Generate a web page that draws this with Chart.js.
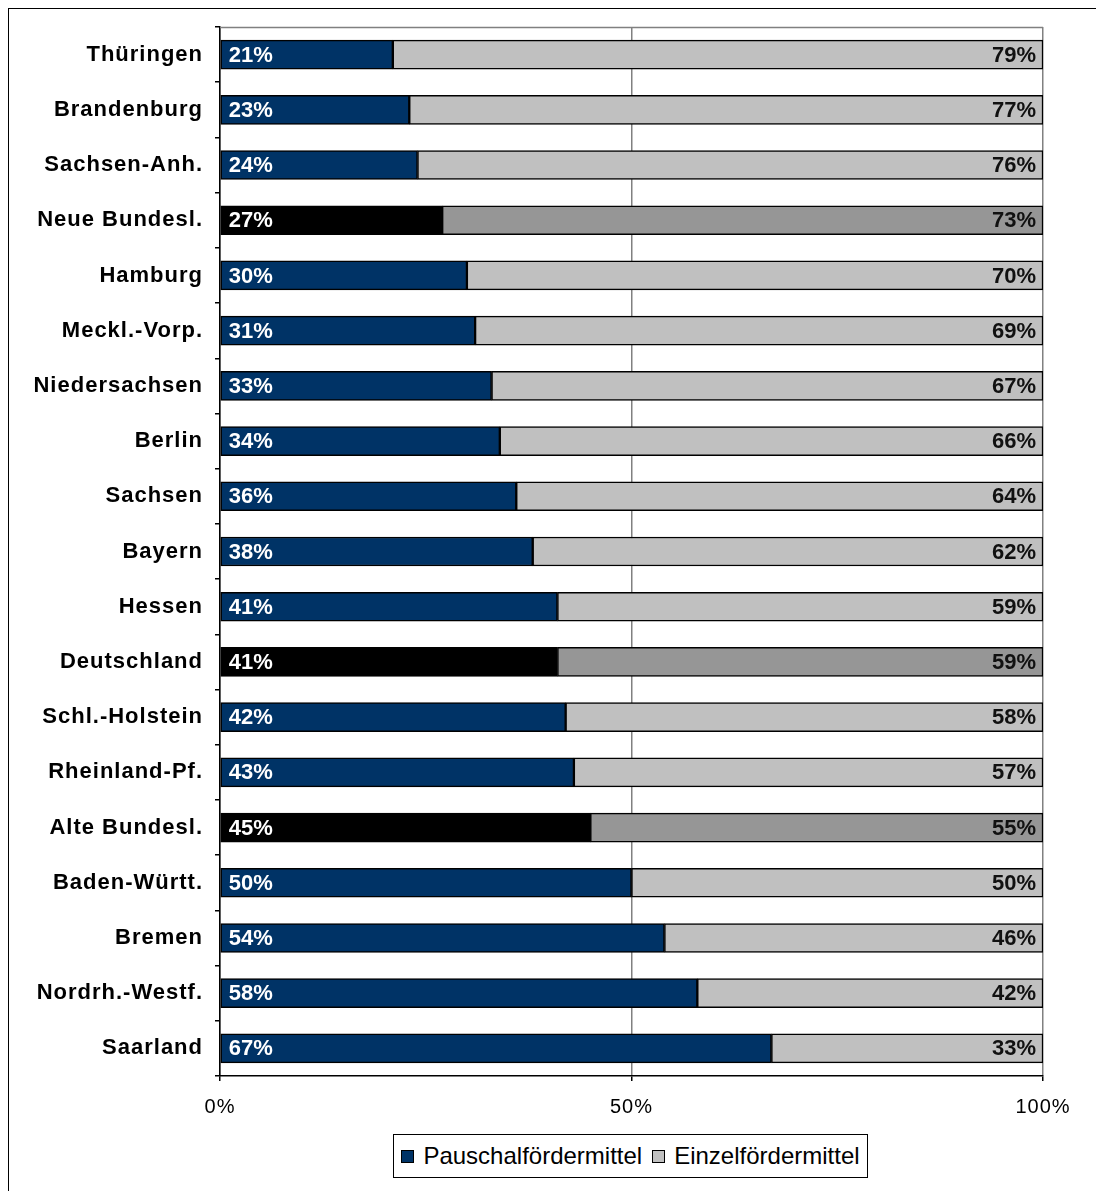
<!DOCTYPE html>
<html>
<head>
<meta charset="utf-8">
<script src="https://cdn.jsdelivr.net/npm/chart.js@4"></script>
<style>
  html, body { margin: 0; padding: 0; background: #fff; overflow: hidden; }
  #wrap { position: relative; width: 1096px; height: 1191px; }
  #frame { position: absolute; left: 8px; top: 8px; right: -10px; bottom: -10px; border-left: 1.5px solid #000; border-top: 1.5px solid #000; pointer-events: none; }
  #legend { position: absolute; left: 393px; top: 1134px; width: 473px; height: 42px; border: 1px solid #000; background: #fff;
            display: flex; align-items: center; justify-content: center; gap: 10px;
            font-family: 'Liberation Sans', Arial, sans-serif; font-size: 24px; color: #000; }
  #legend .item { display: flex; align-items: center; }
  #legend .box { width: 11px; height: 11px; border: 1px solid #000; margin-right: 9px; }
</style>
</head>
<body>
<div id="wrap">
  <canvas id="chart"></canvas>
  <div id="frame"></div>
  <div id="legend"></div>
</div>
<script>
const laender = ['Thüringen', 'Brandenburg', 'Sachsen-Anh.', 'Neue Bundesl.', 'Hamburg', 'Meckl.-Vorp.',
  'Niedersachsen', 'Berlin', 'Sachsen', 'Bayern', 'Hessen', 'Deutschland', 'Schl.-Holstein',
  'Rheinland-Pf.', 'Alte Bundesl.', 'Baden-Württ.', 'Bremen', 'Nordrh.-Westf.', 'Saarland'];
const pauschal = [21, 23, 24, 27, 30, 31, 33, 34, 36, 38, 41, 41, 42, 43, 45, 50, 54, 58, 67];
const einzel = [79, 77, 76, 73, 70, 69, 67, 66, 64, 62, 59, 59, 58, 57, 55, 50, 46, 42, 33];
const summen = ['Neue Bundesl.', 'Deutschland', 'Alte Bundesl.'];
const xTicks = [0, 50, 100];

const FONT = "'Liberation Sans', Arial, sans-serif";
const navy = '#003366', lightGrey = '#c0c0c0';
const isSum = laender.map(l => summen.includes(l));

// white labels at the left end of the first segment, dark ones at the right end of the second
const barLabels = {
  id: 'barLabels',
  afterDatasetsDraw(chart) {
    const ctx = chart.ctx;
    ctx.save();
    ctx.font = 'bold 22px ' + FONT;
    ctx.textBaseline = 'middle';
    chart.getDatasetMeta(0).data.forEach((bar, i) => {
      ctx.fillStyle = '#fff';
      ctx.textAlign = 'left';
      ctx.fillText(pauschal[i] + '%', bar.base + 8, bar.y + 1);
    });
    chart.getDatasetMeta(1).data.forEach((bar, i) => {
      ctx.fillStyle = '#111';
      ctx.textAlign = 'right';
      ctx.fillText(einzel[i] + '%', bar.x - 7, bar.y + 1);
    });
    ctx.restore();
  }
};

// wider spacing for the category names, grey top edge of the plot area
const plotEdge = {
  id: 'plotEdge',
  beforeDraw(chart) {
    chart.ctx.letterSpacing = '1px';
  },
  beforeDatasetsDraw(chart) {
    chart.ctx.letterSpacing = '0px';
  },
  afterDraw(chart) {
    const { ctx, chartArea: a } = chart;
    ctx.save();
    ctx.strokeStyle = '#808080';
    ctx.lineWidth = 1.5;
    ctx.beginPath();
    ctx.moveTo(a.left, a.top + 0.5);
    ctx.lineTo(a.right, a.top + 0.5);
    ctx.stroke();
    ctx.restore();
  }
};

const chart = new Chart(document.getElementById('chart'), {
  type: 'bar',
  data: {
    labels: laender,
    datasets: [{
      label: 'Pauschalfördermittel',
      data: pauschal,
      backgroundColor: isSum.map(s => s ? '#000' : navy),
      legendColor: navy
    }, {
      label: 'Einzelfördermittel',
      data: einzel,
      backgroundColor: isSum.map(s => s ? '#969696' : lightGrey),
      legendColor: lightGrey
    }]
  },
  options: {
    indexAxis: 'y',
    responsive: true,
    maintainAspectRatio: false,
    animation: false,
    layout: { padding: { top: 27, right: 53, left: 0, bottom: 0 } },
    datasets: {
      bar: { barThickness: 29, borderColor: '#000', borderWidth: 1.5, borderSkipped: false }
    },
    plugins: { legend: { display: false }, tooltip: { enabled: false } },
    scales: {
      x: {
        stacked: true,
        min: 0,
        max: 100,
        afterBuildTicks: s => { s.ticks = xTicks.map(v => ({ value: v })); },
        afterFit: s => { s.height = 115; },
        ticks: {
          callback: v => v + '%',
          font: { family: FONT, size: 20 },
          color: '#000',
          padding: 14,
          maxRotation: 0
        },
        grid: { color: '#808080', lineWidth: 1.5, tickColor: '#000', tickLength: 5 },
        border: { color: '#000', width: 1.5 }
      },
      y: {
        stacked: true,
        afterFit: s => { s.width = 220; },
        ticks: {
          font: { family: FONT, size: 22, weight: 'bold' },
          color: '#000',
          padding: 12
        },
        grid: { drawOnChartArea: false, tickColor: '#000', tickLength: 5, lineWidth: 1.5 },
        border: { color: '#000', width: 1.5 }
      }
    }
  },
  plugins: [barLabels, plotEdge]
});

// legend built from the datasets
const legend = document.getElementById('legend');
chart.data.datasets.forEach(ds => {
  const item = document.createElement('div');
  item.className = 'item';
  const box = document.createElement('span');
  box.className = 'box';
  box.style.background = ds.legendColor;
  const txt = document.createElement('span');
  txt.textContent = ds.label;
  item.append(box, txt);
  legend.appendChild(item);
});
</script>
</body>
</html>
